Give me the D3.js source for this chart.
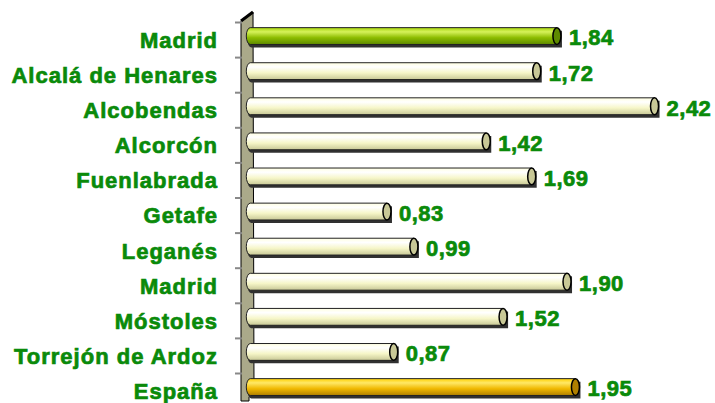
<!DOCTYPE html>
<html>
<head>
<meta charset="utf-8">
<script src="https://cdn.jsdelivr.net/npm/d3@7/dist/d3.min.js"></script>
<style>
  body { margin: 0; background: #fff; }
  svg text { font-family: "Liberation Sans", Arial, sans-serif; font-weight: bold; fill: #0a8a0a;
             stroke: #0a8a0a; stroke-width: 0.7px; }
</style>
</head>
<body>
<div id="chart"></div>
<script>
// chart values, top to bottom
var cities = ["Madrid", "Alcalá de Henares", "Alcobendas", "Alcorcón", "Fuenlabrada", "Getafe",
              "Leganés", "Madrid", "Móstoles", "Torrejón de Ardoz", "España"];
var values = [1.84, 1.72, 2.42, 1.42, 1.69, 0.83, 0.99, 1.90, 1.52, 0.87, 1.95];
// which colour each bar takes: region, municipality or country
var kinds = ["region", "city", "city", "city", "city", "city", "city", "city", "city", "city", "country"];

var width = 715, height = 403;
var svg = d3.select("#chart").append("svg")
    .attr("width", width)
    .attr("height", height);

var ids = cities.map(function(c, i){ return i; });

var x = d3.scaleLinear().domain([0, 2.5]).range([247.3, 668]);
var y = d3.scaleBand().domain(ids).range([18.5, 404.6]).paddingInner(0.52).paddingOuter(0.26);

var fmt = d3.formatLocale({decimal: ",", thousands: ".", grouping: [3], currency: ["", "€"]}).format(".2f");

// gradients for the cylinders
var palettes = {
    region:  ["#d6f25a", "#a6d40a", "#8cbc00", "#5e8a00"],
    city:    ["#ffffff", "#ffffe0", "#f6f6c8", "#c8c896"],
    country: ["#ffe866", "#ffd000", "#f0b800", "#b08000"]
};
var defs = svg.append("defs");
Object.keys(palettes).forEach(function(k){
    var g = defs.append("linearGradient").attr("id", "g-" + k)
        .attr("x1", 0).attr("y1", 0).attr("x2", 0).attr("y2", 1);
    var p = palettes[k];
    g.append("stop").attr("offset", "0%").attr("stop-color", p[1]);
    g.append("stop").attr("offset", "25%").attr("stop-color", p[0]);
    g.append("stop").attr("offset", "60%").attr("stop-color", p[2]);
    g.append("stop").attr("offset", "100%").attr("stop-color", p[3]);
});

// the 3D wall on the left
var wallTop = 12, wallBot = 401;
svg.append("path")
    .attr("d", "M241," + (wallTop + 9) + " L253," + wallTop + " L254," + (wallBot - 10) +
               " L249," + (wallBot - 4) + " L249," + wallBot + " L241," + wallBot + " Z")
    .attr("fill", "#aaa98a")
    .attr("stroke", "#000")
    .attr("stroke-width", 1);
svg.append("path")
    .attr("d", "M241," + (wallTop + 9) + " L253," + wallTop)
    .attr("stroke", "#000")
    .attr("stroke-width", 3);

// tick marks between categories
ids.forEach(function(i){
    var ty = y(i) - (y.step() - y.bandwidth()) / 2 + 4;
    svg.append("line")
        .attr("x1", 235).attr("x2", 242)
        .attr("y1", ty).attr("y2", ty)
        .attr("stroke", "#888").attr("stroke-width", 2);
});

var rx = 4;
function bodyPath(x0, x1, y0, h){
    return "M" + x1 + "," + y0 +
           " L" + (x0 + rx) + "," + y0 +
           " A" + rx + "," + (h / 2) + " 0 0 0 " + (x0 + rx) + "," + (y0 + h) +
           " L" + x1 + "," + (y0 + h) + " Z";
}

var bars = svg.selectAll(".bar")
    .data(ids)
    .enter()
    .append("g")
    .attr("class", "bar");

// shadow
bars.append("path")
    .attr("d", function(i){ return bodyPath(x(0) - 1, x(values[i]) + rx, y(i) + 2, y.bandwidth()); })
    .attr("transform", "translate(1,1)")
    .attr("fill", "#303030");

bars.append("path")
    .attr("d", function(i){ return bodyPath(x(0) - 1, x(values[i]), y(i), y.bandwidth()); })
    .attr("fill", function(i){ return "url(#g-" + kinds[i] + ")"; })
    .attr("stroke", "#222")
    .attr("stroke-width", 1);

bars.append("ellipse")
    .attr("cx", function(i){ return x(values[i]); })
    .attr("cy", function(i){ return y(i) + y.bandwidth() / 2; })
    .attr("rx", rx)
    .attr("ry", y.bandwidth() / 2)
    .attr("fill", function(i){ return palettes[kinds[i]][3]; })
    .attr("stroke", "#000")
    .attr("stroke-width", 1.5);

// value labels
bars.append("text")
    .attr("x", function(i){ return x(values[i]) + 12; })
    .attr("y", function(i){ return y(i) + y.bandwidth() / 2 + 1.5; })
    .attr("dy", "0.36em")
    .attr("font-size", "22px")
    .attr("letter-spacing", "0.5px")
    .text(function(i){ return fmt(values[i]); });

// category labels
bars.append("text")
    .attr("x", 218)
    .attr("y", function(i){ return y(i) + y.bandwidth() / 2 + 4; })
    .attr("dy", "0.36em")
    .attr("text-anchor", "end")
    .attr("font-size", "22px")
    .attr("letter-spacing", "1px")
    .text(function(i){ return cities[i]; });
</script>
</body>
</html>
